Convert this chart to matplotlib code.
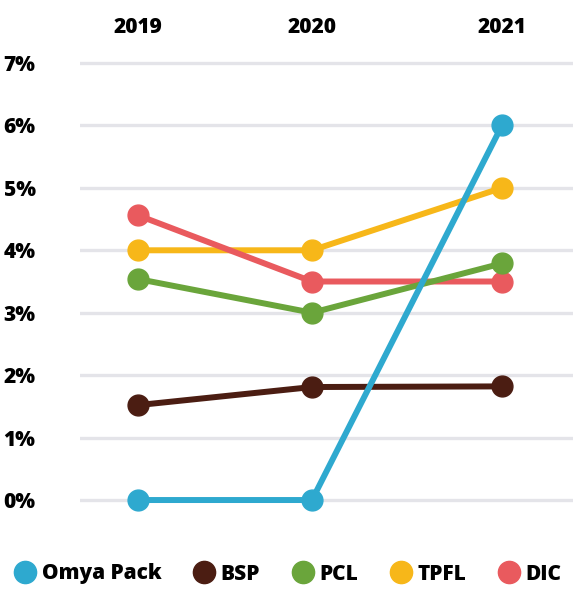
import matplotlib
matplotlib.use("Agg")
import matplotlib.pyplot as plt
from matplotlib.lines import Line2D

years = ["2019", "2020", "2021"]
series_names = ["Omya Pack", "BSP", "PCL", "TPFL", "DIC"]
omya_pack = [0.0, 0.0, 6.0]
bsp = [1.52, 1.81, 1.82]
pcl = [3.54, 3.0, 3.79]
tpfl = [4.0, 4.0, 5.0]
dic = [4.56, 3.5, 3.5]
ytick_values = [0, 1, 2, 3, 4, 5, 6, 7]
ytick_labels = ["0%", "1%", "2%", "3%", "4%", "5%", "6%", "7%"]

colors = ["#2EA9CF", "#4B1D12", "#6AA53B", "#F7B719", "#E95A5E"]
xpos = [0, 1, 2.092]  # layout: category positions

plt.rcParams['font.family'] = ['Open Sans', 'DejaVu Sans']

W, H = 573, 590
fig = plt.figure(figsize=(W/100, H/100), dpi=100)
ax_bottom_px, ax_top_px = 525.0, 50.5
ax = fig.add_axes([80/W, 1-ax_bottom_px/H, (W-80)/W, (ax_bottom_px-ax_top_px)/H])

for ytv in ytick_values:
    ax.axhline(ytv, color="#E4E4E9", lw=2.4, zorder=0)

data = [omya_pack, bsp, pcl, tpfl, dic]
order = [1, 3, 4, 2, 0]
for i in order:
    ax.plot(xpos, data[i], color=colors[i], lw=4.3, marker='o', ms=15,
            solid_capstyle='round', zorder=3 + (i == 0))

ax.set_xlim(-0.333, 2.50)
ax.set_ylim(-0.4, 7.2)
ax.xaxis.tick_top()
ax.set_xticks(xpos)
ax.set_xticklabels(years, fontsize=15, fontweight=800)
ax.tick_params(axis='x', length=0, pad=9)
ax.set_yticks(ytick_values)
ax.set_yticklabels(ytick_labels, fontsize=15, fontweight=800, ha='left')
ax.tick_params(axis='y', length=0, pad=55)
for s in ax.spines.values():
    s.set_visible(False)

handles = [Line2D([], [], color=c, marker='o', ls='none', ms=16) for c in colors]
fig.legend(handles, series_names, loc='center', bbox_to_anchor=(0.503, 1-574/H),
           ncol=5, frameon=False, handletextpad=0.3, columnspacing=1.55,
           handlelength=1.0, borderpad=0.1, prop={'size': 15, 'weight': 800})

fig.savefig("out.png", dpi=100, facecolor='white')
